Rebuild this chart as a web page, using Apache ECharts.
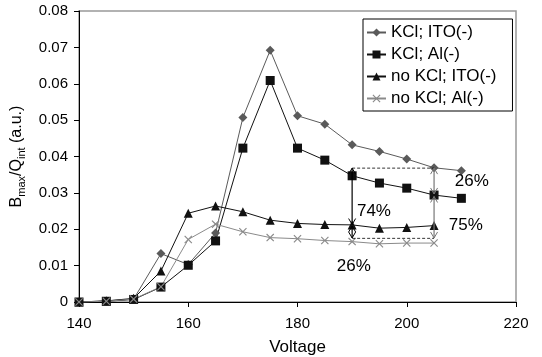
<!DOCTYPE html>
<html><head><meta charset="utf-8">
<script src="https://cdn.jsdelivr.net/npm/echarts@6/dist/echarts.min.js"></script>
<style>html,body{margin:0;padding:0;background:#fff}#c{width:542px;height:357px}</style>
</head><body><div id="c"></div>
<script>
const voltage = [140,145,150,155,160,165,170,175,180,185,190,195,200,205,210];
const kclIto   = [0,0.0003,0.0008,0.0133,0.0103,0.0190,0.0507,0.0692,0.0512,0.0489,0.0432,0.0414,0.0393,0.0369,0.0361];
const kclAl    = [0,0.0002,0.0007,0.0041,0.0101,0.0168,0.0423,0.0609,0.0423,0.0390,0.0347,0.0327,0.0313,0.0294,0.0285];
const noKclIto = [0,0.0003,0.0010,0.0085,0.0244,0.0264,0.0248,0.0225,0.0216,0.0213,0.0212,0.0203,0.0205,0.0210,null];
const noKclAl  = [0,0.0002,0.0008,0.0042,0.0172,0.0214,0.0193,0.0177,0.0174,0.0169,0.0166,0.0160,0.0162,0.0162,null];
const seriesNames = ['KCl; ITO(-)','KCl; Al(-)','no KCl; ITO(-)','no KCl; Al(-)'];
const xTicks = {min:140,max:220,interval:20};
const yTicks = {min:0,max:0.08,interval:0.01};
// annotation segments: [x1,y1,x2,y2,kind,colour]
const annoSegments = [
  [190,0.0368,205,0.0368,'dash','#000'],
  [190,0.0175,205,0.0175,'dash','#000'],
  [190,0.0368,190,0.0213,'arrow','#000'],
  [190,0.0209,190,0.0176,'arrow','#000'],
  [205,0.0368,205,0.0297,'arrow','#777'],
  [205,0.0290,205,0.0176,'arrow','#777']
];
const annoLabels = [[194.0,0.0248,'74%'],[190.3,0.0099,'26%'],[211.9,0.0333,'26%'],[210.8,0.0210,'75%']];

function pairs(v){return voltage.map((x,i)=>[x,v[i]]).filter(p=>p[1]!==null);}
const xPath = 'path://M0,1L1,0L5,4L9,0L10,1L6,5L10,9L9,10L5,6L1,10L0,9L4,5Z';

const chart = echarts.init(document.getElementById('c'),null,{renderer:'canvas'});
const font = 'Liberation Sans, Arial, sans-serif';
function mk(name,data,color,symbol,size){
  return {name,type:'line',data:pairs(data),symbol,symbolSize:size,showSymbol:true,
    lineStyle:{color,width:1},itemStyle:{color},emphasis:{disabled:true},animation:false,z:3};
}
function arrowHead(x,y,dir,color){ // dir: -1 up, 1 down
  const L=6,W=3.5;
  return {type:'polyline',shape:{points:[[x-W,y-dir*L],[x,y],[x+W,y-dir*L]]},style:{stroke:color,lineWidth:1,fill:null}};
}
chart.setOption({
  animation:false,
  grid:{left:79,right:26,top:11,bottom:55,containLabel:false,outerBoundsMode:'none',
    show:true,borderColor:'#999',borderWidth:1.5,backgroundColor:'#fff'},
  legend:{show:true,data:seriesNames,orient:'vertical',left:363,top:19,
    backgroundColor:'#fff',borderColor:'#000',borderWidth:1,padding:[5,16,4,3],itemGap:5,
    itemWidth:19,itemHeight:10,textStyle:{fontFamily:font,fontSize:17,color:'#000'}},
  xAxis:{type:'value',min:xTicks.min,max:xTicks.max,interval:xTicks.interval,
    name:'Voltage',nameLocation:'middle',nameGap:37,nameTextStyle:{fontFamily:font,fontSize:17,color:'#000'},
    axisLine:{show:true,onZero:false,lineStyle:{color:'#000',width:1}},
    axisTick:{show:true,inside:false,length:5,lineStyle:{color:'#000'}},
    axisLabel:{fontFamily:font,fontSize:15,color:'#000',margin:14},splitLine:{show:false}},
  yAxis:{type:'value',min:yTicks.min,max:yTicks.max,interval:yTicks.interval,
    name:'{b|B}{s|max}{b|/Q}{s|int}{b| (a.u.)}',nameLocation:'middle',nameGap:44,
    nameTextStyle:{fontFamily:font,fontSize:16,color:'#000',rich:{
      b:{fontFamily:font,fontSize:16,color:'#000',verticalAlign:'bottom',lineHeight:20},
      s:{fontFamily:font,fontSize:11,color:'#000',verticalAlign:'bottom',lineHeight:14,padding:[0,0,-3,0]}}},
    axisLine:{show:true,onZero:false,lineStyle:{color:'#000',width:1}},
    axisTick:{show:true,inside:false,length:5,lineStyle:{color:'#000'}},
    axisLabel:{fontFamily:font,fontSize:15,color:'#000',margin:11,
      formatter:v=>v===0?'0':v.toFixed(2)},splitLine:{show:false}},
  series:[
    mk(seriesNames[0],kclIto,'#5a5a5a','diamond',9),
    mk(seriesNames[1],kclAl,'#111','rect',9),
    mk(seriesNames[2],noKclIto,'#111','triangle',9),
    mk(seriesNames[3],noKclAl,'#8a8a8a',xPath,8),
    {type:'custom',name:'anno',silent:true,z:5,data:annoSegments,
      encode:{x:[0,2],y:[1,3]},
      renderItem:(params,api)=>{
        const d=annoSegments[params.dataIndex];
        const p1=api.coord([d[0],d[1]]),p2=api.coord([d[2],d[3]]);
        if(d[4]==='dash'){
          return {type:'line',shape:{x1:p1[0],y1:p1[1],x2:p2[0],y2:p2[1]},style:{stroke:d[5],lineWidth:0.8,lineDash:[3,2]}};
        }
        return {type:'group',children:[
          {type:'line',shape:{x1:p1[0],y1:p1[1],x2:p2[0],y2:p2[1]},style:{stroke:d[5],lineWidth:1.2}},
          arrowHead(p1[0],p1[1],-1,d[5]),arrowHead(p2[0],p2[1],1,d[5])]};
      }},
    {type:'custom',name:'labels',silent:true,z:6,data:annoLabels,encode:{x:0,y:1},
      renderItem:(params,api)=>{
        const d=annoLabels[params.dataIndex];const p=api.coord([d[0],d[1]]);
        return {type:'text',x:p[0],y:p[1],style:{text:d[2],fontFamily:font,fontSize:17,fill:'#000',align:'center',verticalAlign:'middle'}};
      }}
  ]
});
</script></body></html>
